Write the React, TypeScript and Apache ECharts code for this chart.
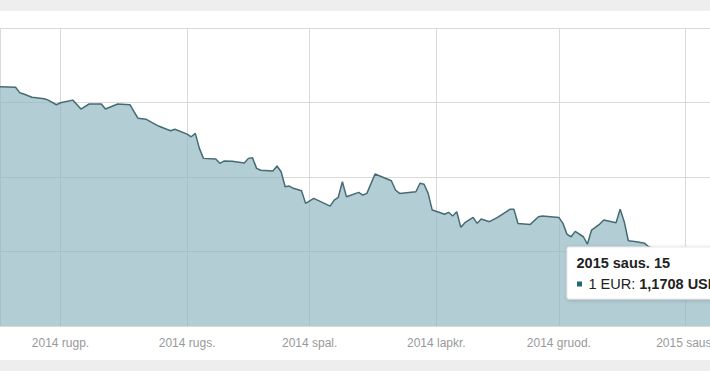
import React, { useEffect, useRef } from "react";
import * as echarts from "echarts";

// Lithuanian month abbreviations used on the axis / tooltip
const monthNames = ["saus.", "vas.", "kov.", "bal.", "geg.", "birž.", "liep.", "rugp.", "rugs.", "spal.", "lapkr.", "gruod."];

// EUR -> USD rate per day
const dates = [
  "2014-07-17", "2014-07-21", "2014-07-22", "2014-07-23", "2014-07-25", "2014-07-28", "2014-07-29", "2014-07-31",
  "2014-08-01", "2014-08-04", "2014-08-06", "2014-08-08", "2014-08-11", "2014-08-12", "2014-08-15", "2014-08-18",
  "2014-08-19", "2014-08-20", "2014-08-22", "2014-08-25", "2014-08-27", "2014-08-28", "2014-08-29",
  "2014-09-01", "2014-09-02", "2014-09-03", "2014-09-04", "2014-09-05", "2014-09-08", "2014-09-09", "2014-09-10",
  "2014-09-12", "2014-09-15", "2014-09-16", "2014-09-17", "2014-09-18", "2014-09-19", "2014-09-22", "2014-09-23",
  "2014-09-24", "2014-09-25", "2014-09-26", "2014-09-27", "2014-09-29", "2014-09-30",
  "2014-10-02", "2014-10-06", "2014-10-07", "2014-10-08", "2014-10-09", "2014-10-10", "2014-10-13", "2014-10-14",
  "2014-10-15", "2014-10-17", "2014-10-21", "2014-10-22", "2014-10-23", "2014-10-27", "2014-10-28", "2014-10-29",
  "2014-10-30", "2014-10-31",
  "2014-11-02", "2014-11-03", "2014-11-04", "2014-11-05", "2014-11-06", "2014-11-07", "2014-11-08", "2014-11-10",
  "2014-11-11", "2014-11-12", "2014-11-14", "2014-11-16", "2014-11-19", "2014-11-20", "2014-11-21", "2014-11-24",
  "2014-11-26", "2014-11-27",
  "2014-12-01", "2014-12-02", "2014-12-03", "2014-12-04", "2014-12-05", "2014-12-07", "2014-12-08", "2014-12-09",
  "2014-12-11", "2014-12-12", "2014-12-15", "2014-12-16", "2014-12-17", "2014-12-18", "2014-12-20", "2014-12-22",
  "2014-12-23", "2014-12-29",
  "2015-01-02", "2015-01-05", "2015-01-08", "2015-01-12", "2015-01-14", "2015-01-15",
];
const rates = [
  1.3106, 1.3102, 1.3066, 1.3057, 1.3035, 1.3025, 1.3016, 1.2985,
  1.2998, 1.3016, 1.2956, 1.2990, 1.2990, 1.2956, 1.2990, 1.2985,
  1.2938, 1.2894, 1.2887, 1.2842, 1.2820, 1.2810, 1.2820,
  1.2788, 1.2770, 1.2793, 1.2692, 1.2625, 1.2621, 1.2592, 1.2607,
  1.2605, 1.2594, 1.2625, 1.2629, 1.2558, 1.2545, 1.2540, 1.2574,
  1.2535, 1.2435, 1.2439, 1.2424, 1.2408, 1.2323,
  1.2357, 1.2305, 1.2345, 1.2364, 1.2468, 1.2368, 1.2397, 1.2379,
  1.2390, 1.2520, 1.2475, 1.2413, 1.2390, 1.2401, 1.2458, 1.2451,
  1.2390, 1.2278,
  1.2260, 1.2250, 1.2263, 1.2238, 1.2267, 1.2162, 1.2193, 1.2229,
  1.2189, 1.2218, 1.2200, 1.2229, 1.2283, 1.2283, 1.2188, 1.2182,
  1.2233, 1.2238,
  1.2229, 1.2189, 1.2115, 1.2099, 1.2135, 1.2099, 1.2050, 1.2144,
  1.2184, 1.2211, 1.2193, 1.2283, 1.2200, 1.2072, 1.2066, 1.2055,
  1.2032, 1.1975,
  1.1960, 1.1920, 1.1850, 1.1820, 1.1790, 1.1708,
];

const yMin = 1.15;
const yMax = 1.35;
const yStep = 0.05;

const DAY = 86400000;
const toTime = (s: string) => {
  const [y, m, d] = s.split("-").map(Number);
  return new Date(y, m - 1, d).getTime();
};

export default function App() {
  const ref = useRef<HTMLDivElement>(null);

  useEffect(() => {
    if (!ref.current) return;
    const chart = echarts.init(ref.current, null, { renderer: "svg" });

    const chartWidth = 760;
    const pxPerDay = 4.085;
    const minT = toTime("2014-08-01") - 14.81 * DAY;
    const maxT = minT + (chartWidth / pxPerDay) * DAY;

    const data = dates.map((d, i) => [toTime(d), rates[i]]);
    const lastDate = new Date(toTime(dates[dates.length - 1]));
    const tipTitle = `${lastDate.getFullYear()} ${monthNames[lastDate.getMonth()]} ${lastDate.getDate()}`;
    const tipValue = rates[rates.length - 1].toFixed(4).replace(".", ",") + " USD";

    chart.setOption({
      animation: false,
      backgroundColor: "#ffffff",
      grid: { left: 0, right: 0, top: 17, bottom: 34 },
      xAxis: {
        type: "time",
        min: minT,
        max: maxT,
        splitNumber: 6,
        minInterval: 28 * DAY,
        maxInterval: 31 * DAY,
        axisLine: { show: false },
        axisTick: { show: false },
        splitLine: { show: true, lineStyle: { color: "#d9d9d9", width: 1 } },
        axisLabel: {
          color: "#999999",
          fontSize: 12,
          fontFamily: "Liberation Sans, Arial, sans-serif",
          margin: 11,
          hideOverlap: false,
          formatter: (v: number) => {
            const d = new Date(v);
            return `${d.getFullYear()} ${monthNames[d.getMonth()]}`;
          },
        },
      },
      yAxis: {
        type: "value",
        min: yMin,
        max: yMax,
        interval: yStep,
        axisLine: { show: false },
        axisTick: { show: false },
        axisLabel: { show: false },
        splitLine: { show: true, lineStyle: { color: "#d9d9d9", width: 1 } },
      },
      series: [
        {
          type: "line",
          data,
          showSymbol: false,
          symbol: "none",
          lineStyle: { color: "#466b74", width: 1.5 },
          itemStyle: { color: "#1e6a75" },
          areaStyle: { color: "#8fb6c1", opacity: 0.68 },
          z: 2,
        },
      ],
      graphic: [
        {
          type: "rect",
          z: 100,
          shape: { x: 567, y: 236, width: 220, height: 52, r: 2 },
          style: {
            fill: "#ffffff",
            stroke: "#e8e8e8",
            lineWidth: 1,
            shadowBlur: 4,
            shadowColor: "rgba(0,0,0,0.18)",
            shadowOffsetX: 1,
            shadowOffsetY: 1,
          },
        },
        {
          type: "text",
          z: 101,
          x: 576.5,
          y: 252,
          style: {
            text: tipTitle,
            fill: "#222222",
            font: "bold 14.5px 'Liberation Sans', Arial, sans-serif",
            verticalAlign: "middle",
          },
        },
        {
          type: "rect",
          z: 101,
          shape: { x: 577, y: 270.5, width: 5, height: 5 },
          style: { fill: "#1e6a75" },
        },
        {
          type: "text",
          z: 101,
          x: 588.5,
          y: 272.8,
          style: {
            text: "1 EUR: {b|" + tipValue + "}",
            fill: "#222222",
            font: "14.5px 'Liberation Sans', Arial, sans-serif",
            verticalAlign: "middle",
            rich: {
              b: {
                fontWeight: "bold",
                fontSize: 14.5,
                fontFamily: "Liberation Sans, Arial, sans-serif",
                fill: "#222222",
              },
            },
          },
        },
      ],
    });

    return () => chart.dispose();
  }, []);

  return (
    <div
      style={{
        position: "fixed",
        left: 0,
        top: 0,
        width: 710,
        height: 371,
        background: "#eeeeee",
        overflow: "hidden",
      }}
    >
      <div
        ref={ref}
        style={{ position: "absolute", left: 0, top: 11, width: 760, height: 349, background: "#ffffff" }}
      />
    </div>
  );
}
